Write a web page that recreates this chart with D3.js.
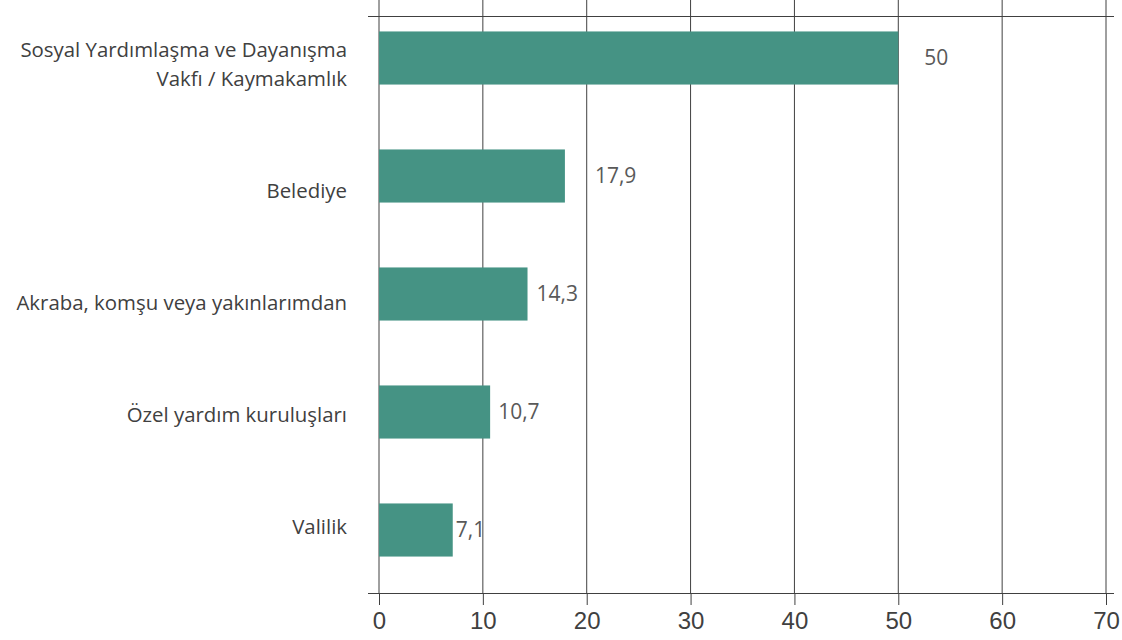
<!DOCTYPE html>
<html lang="tr">
<head>
  <meta charset="UTF-8">
  <title>Yardım kaynakları</title>
  <script src="https://d3js.org/d3.v7.min.js"></script>
  <style>
    body { margin: 0; background: #fff; }
    svg { display: block; font-family: "Open Sans", sans-serif; }
    .cat-label { fill: #404040; font-size: 20.4px; }
    .val-label { fill: #595959; font-size: 21px; }
    .tick text { fill: #404040; font-size: 24px; }
  </style>
</head>
<body>
  <script>
    // Veriler
    const categories = [
      'Sosyal Yardımlaşma ve Dayanışma|Vakfı / Kaymakamlık',
      'Belediye',
      'Akraba, komşu veya yakınlarımdan',
      'Özel yardım kuruluşları',
      'Valilik'
    ];
    const values = [50, 17.9, 14.3, 10.7, 7.1];
    const valueLabels = ['50', '17,9', '14,3', '10,7', '7,1'];
    const xTicks = [0, 10, 20, 30, 40, 50, 60, 70];

    const width = 1122;
    const height = 640;
    const barColor = '#459384';
    const lineColor = '#404040';

    // etiketlerin elle kaydırılmış yerleri (orijinaldeki gibi)
    const labelNudge = [26, 30, 9, 8, 3];

    const svg = d3.select('body')
      .append('svg')
      .attr('width', width)
      .attr('height', height);

    const x = d3.scaleLinear()
      .domain([0, 70])
      .range([379, 1106]);

    const y = d3.scaleBand()
      .domain(categories)
      .range([-1, 589])
      .paddingInner(0.55)
      .paddingOuter(0.275);

    // kategori yazıları çubuklarla tam hizalı değil
    const yLabel = d3.scalePoint()
      .domain(categories)
      .range([79, 527]);

    const axisY = 593;

    // Dikey ızgara çizgileri
    svg.append('g')
      .selectAll('line')
      .data(xTicks)
      .join('line')
      .attr('x1', d => x(d))
      .attr('x2', d => x(d))
      .attr('y1', 0)
      .attr('y2', axisY)
      .style('stroke', lineColor)
      .style('stroke-width', 1);

    // Üst çizgi
    svg.append('line')
      .attr('x1', 368)
      .attr('x2', 1114)
      .attr('y1', 16.5)
      .attr('y2', 16.5)
      .style('stroke', lineColor);

    // Çubuklar
    svg.append('g')
      .selectAll('rect')
      .data(values)
      .join('rect')
      .attr('x', x(0))
      .attr('y', (d, i) => y(categories[i]))
      .attr('width', d => x(d) - x(0))
      .attr('height', y.bandwidth())
      .style('fill', barColor);

    // Alt eksen
    const xAxis = d3.axisBottom(x)
      .tickValues(xTicks)
      .tickSize(12)
      .tickPadding(7)
      .tickFormat(d3.format('d'));

    const axisG = svg.append('g')
      .attr('transform', `translate(0,${axisY})`)
      .call(xAxis);

    axisG.select('.domain').remove();
    axisG.selectAll('.tick line').style('stroke', lineColor);
    axisG.append('line')
      .attr('x1', 368)
      .attr('x2', 1114)
      .attr('y1', 0.5)
      .attr('y2', 0.5)
      .style('stroke', lineColor);

    // Kategori etiketleri (son satır çapaya oturur, üst satırlar yukarı)
    const catG = svg.append('g');
    const lh = 29;
    categories.forEach(c => {
      const lines = c.split('|');
      const cy = yLabel(c);
      lines.forEach((l, j) => {
        catG.append('text')
          .attr('class', 'cat-label')
          .attr('text-anchor', 'end')
          .attr('x', 347)
          .attr('y', cy - (lines.length - 1 - j) * lh)
          .attr('dy', '0.35em')
          .text(l);
      });
    });

    // Değer etiketleri
    svg.append('g')
      .selectAll('text')
      .data(values)
      .join('text')
      .attr('class', 'val-label')
      .attr('x', (d, i) => x(d) + labelNudge[i])
      .attr('y', (d, i) => y(categories[i]) + y.bandwidth() / 2)
      .attr('dy', '0.35em')
      .text((d, i) => valueLabels[i]);
  </script>
</body>
</html>
